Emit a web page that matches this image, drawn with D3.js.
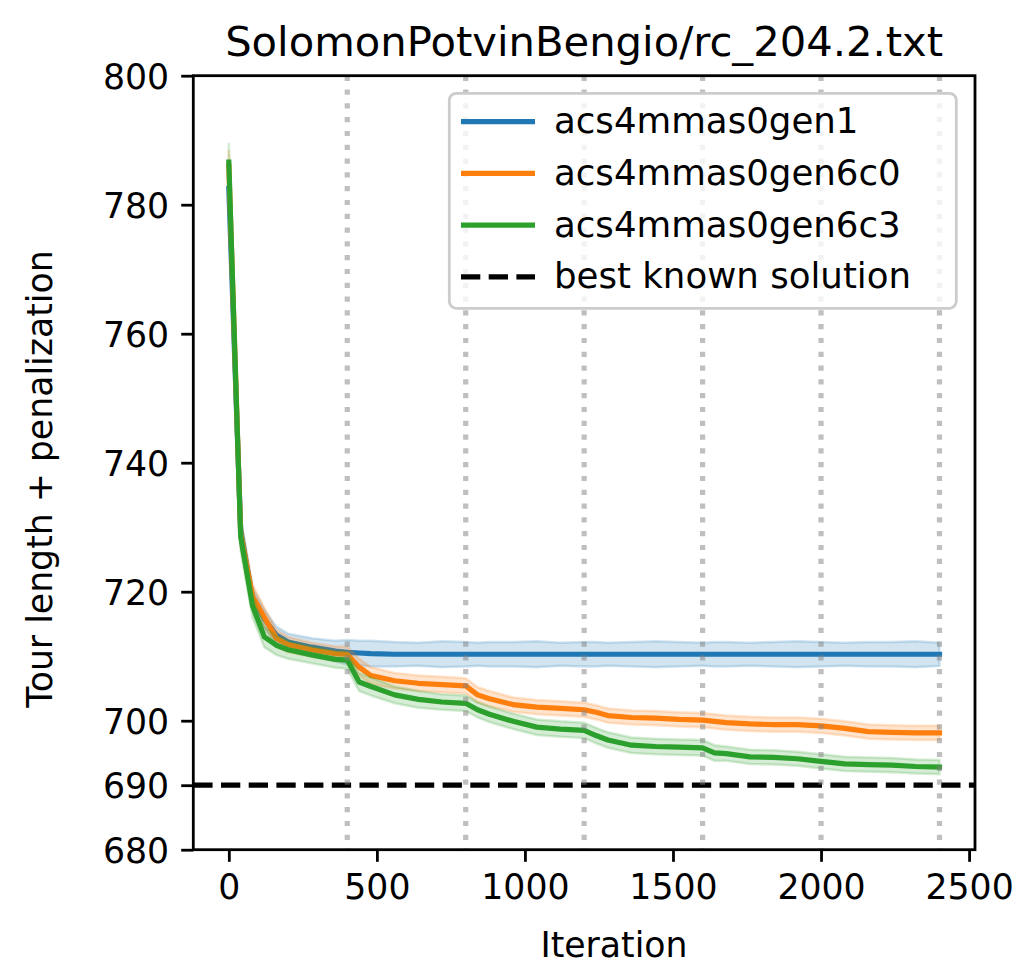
<!DOCTYPE html>
<html>
<head>
<meta charset="utf-8">
<script src="https://cdn.jsdelivr.net/npm/d3@7"></script>
<style>
  body { margin: 0; background: #fff; }
  svg { display: block; font-family: "DejaVu Sans", sans-serif; }
</style>
</head>
<body>
<svg></svg>
<script>
//* Mean tour length (+ std band) per iteration for three solver variants
const iterations = [0, 40, 80, 120, 160, 200, 280, 360, 400, 440, 480, 560, 640, 720, 800,
  840, 880, 960, 1040, 1120, 1200, 1240, 1280, 1360, 1440, 1520, 1600, 1640, 1680,
  1760, 1840, 1920, 2000, 2080, 2160, 2240, 2320, 2400];

const gen1Mean = [782.5, 729.5, 719.0, 715.8, 713.3, 712.2, 711.4, 710.8, 710.6, 710.5, 710.4,
  710.3, 710.3, 710.3, 710.3, 710.3, 710.3, 710.3, 710.3, 710.3, 710.3, 710.3, 710.3,
  710.3, 710.3, 710.3, 710.3, 710.3, 710.3, 710.3, 710.3, 710.3, 710.3, 710.3, 710.3,
  710.3, 710.3, 710.3];
const gen1Std = [3.0, 2.0, 1.6, 1.4, 1.3, 1.3, 1.4, 1.6, 1.9, 1.9, 2.0, 1.9, 1.8, 2.0, 1.9,
  1.8, 1.9, 1.9, 2.0, 1.8, 1.9, 1.9, 1.8, 1.9, 2.0, 1.9, 1.8, 1.9, 1.9, 1.8, 1.9, 2.0,
  1.9, 1.8, 1.9, 1.9, 2.0, 1.8];

const gen6c0Mean = [786.0, 729.0, 719.3, 716.0, 712.8, 711.8, 711.0, 710.4, 710.3, 708.3, 707.0,
  706.2, 705.8, 705.6, 705.4, 704.0, 703.4, 702.5, 702.1, 701.9, 701.7, 701.3, 700.8,
  700.5, 700.4, 700.2, 700.1, 699.9, 699.7, 699.5, 699.4, 699.4, 699.2, 698.8, 698.3,
  698.2, 698.1, 698.1];
const gen6c0Std = [2.5, 2.0, 1.8, 1.5, 1.3, 1.2, 1.1, 1.1, 1.2, 1.3, 1.3, 1.2, 1.2, 1.2, 1.2,
  1.2, 1.2, 1.1, 1.1, 1.1, 1.1, 1.1, 1.1, 1.1, 1.1, 1.1, 1.1, 1.1, 1.1, 1.1, 1.1, 1.1,
  1.1, 1.1, 1.1, 1.1, 1.1, 1.1];

const gen6c3Mean = [786.6, 728.5, 717.8, 713.0, 711.7, 711.0, 710.2, 709.5, 709.4, 706.0, 705.3,
  704.0, 703.3, 702.9, 702.7, 701.7, 701.0, 699.9, 699.0, 698.7, 698.5, 697.7, 697.0,
  696.2, 696.0, 695.9, 695.8, 695.0, 694.9, 694.4, 694.3, 694.1, 693.7, 693.3, 693.2,
  693.1, 692.9, 692.8];
const gen6c3Std = [3.0, 2.2, 1.8, 1.6, 1.5, 1.4, 1.3, 1.3, 1.3, 1.4, 1.4, 1.3, 1.3, 1.2, 1.2,
  1.2, 1.2, 1.2, 1.2, 1.2, 1.2, 1.2, 1.2, 1.2, 1.2, 1.2, 1.2, 1.2, 1.1, 1.1, 1.1, 1.1,
  1.1, 1.1, 1.1, 1.1, 1.1, 1.1];

const seriesNames = ["acs4mmas0gen1", "acs4mmas0gen6c0", "acs4mmas0gen6c3"];
const seriesColors = ["#1f77b4", "#ff7f0e", "#2ca02c"];
const bestKnown = 690;
const epochMarks = [400, 800, 1200, 1600, 2000, 2400];
const yTicks = [680, 690, 700, 720, 740, 760, 780, 800];
const xTicks = [0, 500, 1000, 1500, 2000, 2500];

const series = [
  { name: seriesNames[0], color: seriesColors[0], mean: gen1Mean, std: gen1Std },
  { name: seriesNames[1], color: seriesColors[1], mean: gen6c0Mean, std: gen6c0Std },
  { name: seriesNames[2], color: seriesColors[2], mean: gen6c3Mean, std: gen6c3Std }
];

const width = 1016;
const height = 969;
const plot = { left: 193.3, right: 975, top: 75.7, bottom: 849.7 };
const lw = 5.2;   // 1.5pt at 250 dpi
const fs = 34.7;  // 10pt

const x = d3.scaleLinear().domain([-120, 2520]).range([plot.left, plot.right]);
const y = d3.scaleLinear().domain([680, 800]).range([plot.bottom, plot.top]);

const svg = d3.select("svg")
  .attr("width", width)
  .attr("height", height);

svg.append("clipPath")
  .attr("id", "plot-clip")
  .append("rect")
  .attr("x", plot.left)
  .attr("y", plot.top)
  .attr("width", plot.right - plot.left)
  .attr("height", plot.bottom - plot.top);

const body = svg.append("g").attr("clip-path", "url(#plot-clip)");

const line = d3.line()
  .x((d, i) => x(iterations[i]))
  .y(d => y(d));

// each series: band first, then mean line (same order as the pyplot loop)
series.forEach(s => {
  const area = d3.area()
    .x((d, i) => x(iterations[i]))
    .y0((d, i) => y(d - s.std[i]))
    .y1((d, i) => y(d + s.std[i]));

  body.append("path")
    .attr("d", area(s.mean))
    .attr("fill", s.color)
    .attr("fill-opacity", 0.2)
    .attr("stroke", s.color)
    .attr("stroke-opacity", 0.2)
    .attr("stroke-width", 2.5);

  body.append("path")
    .attr("d", line(s.mean))
    .attr("fill", "none")
    .attr("stroke", s.color)
    .attr("stroke-width", lw)
    .attr("stroke-linejoin", "round")
    .attr("stroke-linecap", "square");
});

body.append("line")
  .attr("x1", plot.left)
  .attr("x2", plot.right)
  .attr("y1", y(bestKnown))
  .attr("y2", y(bestKnown))
  .attr("stroke", "#000")
  .attr("stroke-width", lw)
  .attr("stroke-dasharray", "19.3,8.4");

body.selectAll(".epoch")
  .data(epochMarks)
  .enter()
  .append("line")
  .classed("epoch", true)
  .attr("x1", d => x(d))
  .attr("x2", d => x(d))
  .attr("y1", plot.top)
  .attr("y2", plot.bottom)
  .attr("stroke", "gray")
  .attr("stroke-opacity", 0.5)
  .attr("stroke-width", lw)
  .attr("stroke-dasharray", "5.2,8.6");

//* Axes
const xAxis = d3.axisBottom(x)
  .tickValues(xTicks)
  .tickSize(12.1)
  .tickPadding(12.1)
  .tickFormat(d3.format("d"));

const yAxis = d3.axisLeft(y)
  .tickValues(yTicks)
  .tickSize(12.1)
  .tickPadding(12.1)
  .tickFormat(d3.format("d"));

const gx = svg.append("g")
  .attr("transform", `translate(0, ${plot.bottom})`)
  .call(xAxis);

const gy = svg.append("g")
  .attr("transform", `translate(${plot.left}, 0)`)
  .call(yAxis);

[gx, gy].forEach(g => {
  g.select(".domain").remove();
  g.selectAll(".tick line").attr("stroke", "#000").attr("stroke-width", 2.8);
  g.selectAll(".tick text")
    .attr("fill", "#000")
    .attr("font-size", fs)
    .attr("font-family", "DejaVu Sans");
});

gx.selectAll(".tick text").attr("dy", "0.72em");
gy.selectAll(".tick text").attr("dy", "0.36em");

svg.append("rect")
  .attr("x", plot.left)
  .attr("y", plot.top)
  .attr("width", plot.right - plot.left)
  .attr("height", plot.bottom - plot.top)
  .attr("fill", "none")
  .attr("stroke", "#000")
  .attr("stroke-width", 2.8);

//* Labels
svg.append("text")
  .attr("x", (plot.left + plot.right) / 2)
  .attr("y", 56)
  .attr("text-anchor", "middle")
  .attr("font-size", 41.7)
  .text("SolomonPotvinBengio/rc_204.2.txt");

svg.append("text")
  .attr("x", 614)
  .attr("y", 957)
  .attr("text-anchor", "middle")
  .attr("font-size", fs)
  .text("Iteration");

svg.append("text")
  .attr("transform", "translate(52, 479) rotate(-90)")
  .attr("text-anchor", "middle")
  .attr("font-size", fs)
  .text("Tour length + penalization");

//* Legend
const legendItems = series.map(s => ({ name: s.name, color: s.color, dash: null }))
  .concat([{ name: "best known solution", color: "#000", dash: "19.3,8.4" }]);

const legend = svg.append("g");

legend.append("rect")
  .attr("x", 449.3)
  .attr("y", 93.3)
  .attr("width", 507)
  .attr("height", 215)
  .attr("rx", 7)
  .attr("fill", "#fff")
  .attr("fill-opacity", 0.8)
  .attr("stroke", "#cccccc")
  .attr("stroke-width", 2.8);

const rows = legend.selectAll(".legend-row")
  .data(legendItems)
  .enter()
  .append("g")
  .classed("legend-row", true)
  .attr("transform", (d, i) => `translate(0, ${121.7 + i * 51.7})`);

rows.append("line")
  .attr("x1", 461)
  .attr("x2", 535)
  .attr("stroke", d => d.color)
  .attr("stroke-width", lw)
  .attr("stroke-dasharray", d => d.dash);

rows.append("text")
  .attr("x", 554)
  .attr("y", 11.5)
  .attr("font-size", 35.6)
  .text(d => d.name);
</script>
</body>
</html>
